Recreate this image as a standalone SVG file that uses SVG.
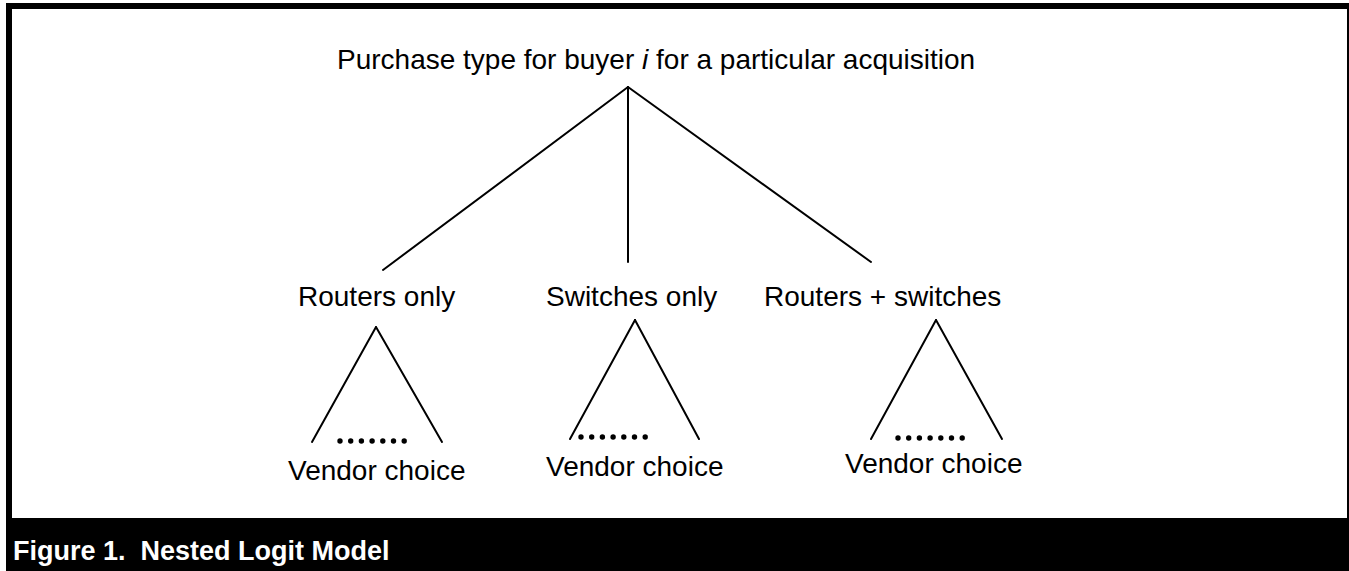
<svg xmlns="http://www.w3.org/2000/svg" width="1349" height="571" viewBox="0 0 1349 571">
  <style>
    .lbl { font-family: "Liberation Sans", Arial, sans-serif; font-size: 28px; fill: #000; }
    .cap { font-family: "Liberation Sans", Arial, sans-serif; font-size: 27px; font-weight: bold; fill: #fff; }
    .edge { stroke: #000; stroke-width: 2; fill: none; stroke-linecap: round; }
    .dot { fill: #000; }
  </style>
  <defs>
    <!-- row of seven dots standing for the vendor alternatives -->
    <g id="dots">
      <circle class="dot" cx="0" cy="0" r="2.7"/>
      <circle class="dot" cx="10.7" cy="0" r="2.7"/>
      <circle class="dot" cx="21.4" cy="0" r="2.7"/>
      <circle class="dot" cx="32.1" cy="0" r="2.7"/>
      <circle class="dot" cx="42.8" cy="0" r="2.7"/>
      <circle class="dot" cx="53.5" cy="0" r="2.7"/>
      <circle class="dot" cx="64.2" cy="0" r="2.7"/>
    </g>
  </defs>

  <!-- frame and caption bar -->
  <rect x="0" y="0" width="1349" height="571" fill="#fff"/>
  <rect x="6" y="3" width="1343" height="568" fill="#000"/>
  <rect x="12" y="9" width="1335" height="509" fill="#fff"/>
  <text class="cap" x="13" y="560" xml:space="preserve">Figure 1.  Nested Logit Model</text>

  <!-- connectors -->
  <g id="connectors">
    <line class="edge" x1="628" y1="87" x2="383" y2="270"/>
    <line class="edge" x1="628" y1="87" x2="628" y2="262"/>
    <line class="edge" x1="628" y1="87" x2="871" y2="262"/>
    <line class="edge" x1="376" y1="327" x2="312" y2="442"/>
    <line class="edge" x1="376" y1="327" x2="442" y2="442"/>
    <line class="edge" x1="635" y1="320" x2="570" y2="439"/>
    <line class="edge" x1="635" y1="320" x2="699" y2="439"/>
    <line class="edge" x1="936" y1="320" x2="871" y2="439"/>
    <line class="edge" x1="936" y1="320" x2="1002" y2="439"/>
  </g>

  <g id="root">
    <text class="lbl" x="337" y="69">Purchase type for buyer <tspan font-style="italic">i</tspan> for a particular acquisition</text>
  </g>

  <g id="routers">
    <text class="lbl" x="298" y="306">Routers only</text>
  </g>
  <g id="switches">
    <text class="lbl" x="546" y="306">Switches only</text>
  </g>
  <g id="both">
    <text class="lbl" x="764" y="306">Routers + switches</text>
  </g>

  <g id="vendor-routers">
    <use href="#dots" x="340" y="441"/>
    <text class="lbl" x="288" y="480">Vendor choice</text>
  </g>
  <g id="vendor-switches">
    <use href="#dots" x="581" y="437"/>
    <text class="lbl" x="546" y="476">Vendor choice</text>
  </g>
  <g id="vendor-both">
    <use href="#dots" x="898" y="438"/>
    <text class="lbl" x="845" y="473">Vendor choice</text>
  </g>
</svg>
